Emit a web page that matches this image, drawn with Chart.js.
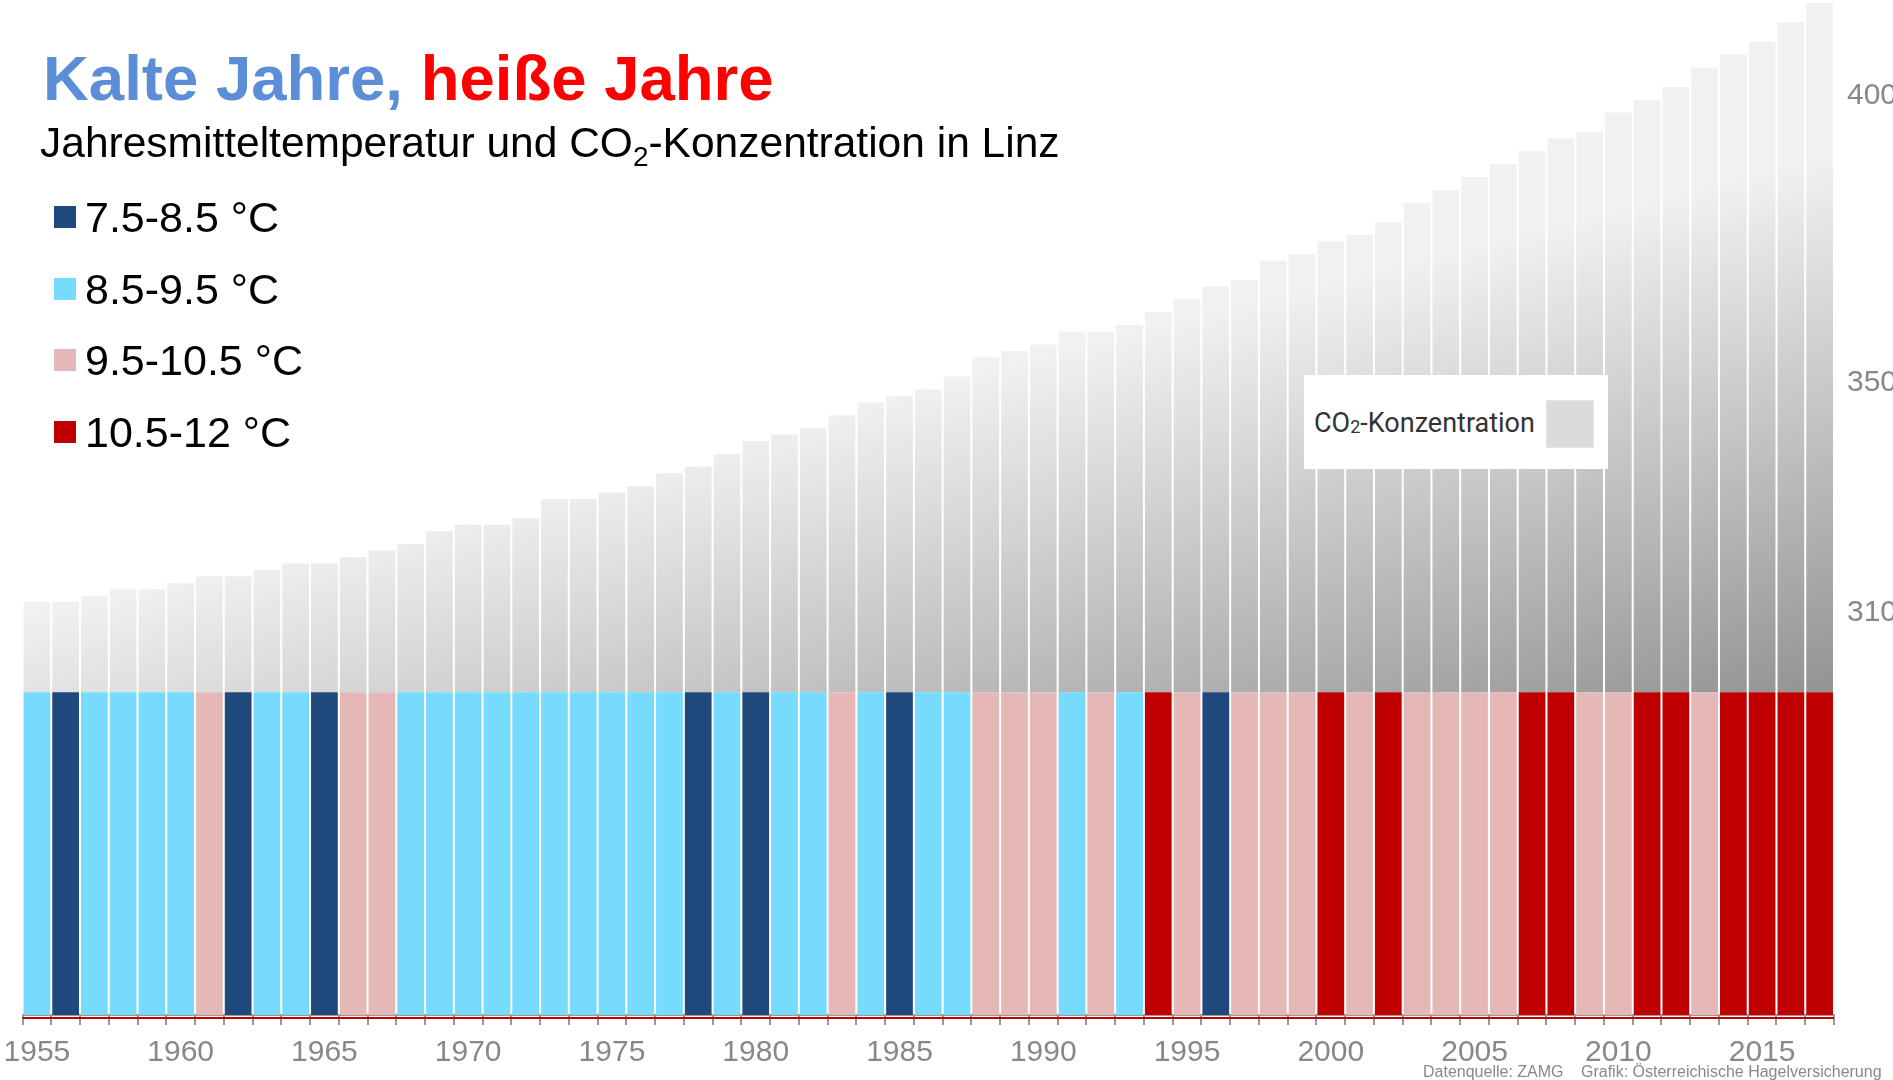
<!DOCTYPE html>
<html>
<head>
<meta charset="utf-8">
<script src="https://cdn.jsdelivr.net/npm/chart.js@4.4.1/dist/chart.umd.min.js"></script>
<style>
html,body{margin:0;padding:0;background:#fff;width:1893px;height:1080px;overflow:hidden;font-family:"Liberation Sans",Arial,sans-serif}
#wrap{position:relative;width:1893px;height:1080px}
#c{position:absolute;left:0;top:0}
.ov{position:absolute;white-space:nowrap}
#title{left:43px;top:47px;font-size:63.5px;line-height:63.5px;font-weight:bold}
#subtitle{left:40px;top:122px;font-size:42.5px;line-height:42.5px;color:#000}
#subtitle sub{font-size:28px;line-height:0;vertical-align:-9px}
.leg{left:54px;font-size:43px;line-height:43px;color:#000}
.leg i{position:absolute;left:0;top:10px;width:22px;height:22px}
.leg span{position:absolute;left:31px;top:0}
#co2box{left:1304px;top:375px;width:304px;height:94px;background:#fff}
#co2txt{left:10px;top:35px;font-family:Roboto,"Liberation Sans",sans-serif;font-size:27px;line-height:27px;color:#333}
#co2txt small{font-size:18px;vertical-align:-1px}
#co2sw{left:242px;top:25px;width:46px;height:46px;background:#d9dcdb;border:1px solid #e6e8e8}
.src{top:1064px;font-size:16px;line-height:16px;color:#888}
</style>
</head>
<body>
<div id="wrap">
<canvas id="c" width="1893" height="1080"></canvas>
<div class="ov" id="title"><span style="color:#5b8ed7">Kalte Jahre,</span> <span style="color:#ff0000">heiße Jahre</span></div>
<div class="ov" id="subtitle">Jahresmitteltemperatur und CO<sub>2</sub>-Konzentration in Linz</div>
<div id="legend"></div>
<div class="ov" id="co2box"><div class="ov" id="co2txt">CO<small>2</small>-Konzentration</div><div class="ov" id="co2sw"></div></div>
<div class="ov src" style="left:1423px">Datenquelle: ZAMG</div>
<div class="ov src" style="left:1581px">Grafik: Österreichische Hagelversicherung</div>
</div>
<script>
// ---------- data ----------
const years = ["1955","1956","1957","1958","1959","1960","1961","1962","1963","1964",
  "1965","1966","1967","1968","1969","1970","1971","1972","1973","1974",
  "1975","1976","1977","1978","1979","1980","1981","1982","1983","1984",
  "1985","1986","1987","1988","1989","1990","1991","1992","1993","1994",
  "1995","1996","1997","1998","1999","2000","2001","2002","2003","2004",
  "2005","2006","2007","2008","2009","2010","2011","2012","2013","2014",
  "2015","2016","2017"];
// CO2 concentration (ppm)
const co2ppm = [314,314,315,316,316,317,318,318,319,320,
  320,321,322,323,325,326,326,327,330,330,
  331,332,334,335,337,339,340,341,343,345,
  346,347,349,352,353,354,356,356,357,359,
  361,363,364,367,368,370,371,373,376,378,
  380,382,384,386,387,390,392,394,397,399,
  401,404,407];
// temperature class per year: 0 = 7.5-8.5, 1 = 8.5-9.5, 2 = 9.5-10.5, 3 = 10.5-12 °C
const tempClass = [1,0,1,1,1,1,2,0,1,1,
  0,2,2,1,1,1,1,1,1,1,
  1,1,1,0,1,0,1,1,2,1,
  0,1,1,2,2,2,1,2,1,3,
  2,0,2,2,2,3,2,3,2,2,
  2,2,3,3,2,2,3,3,2,3,
  3,3,3];
const tempClassLabels = ["7.5-8.5 °C","8.5-9.5 °C","9.5-10.5 °C","10.5-12 °C"];
const xTickLabels = ["1955","1960","1965","1970","1975","1980","1985","1990","1995","2000","2005","2010","2015"];
const rightTickValues = [310, 350, 400];

// ---------- style / scale setup ----------
const tempColors = ["#1f497d","#76dbfe","#e5b8b7","#c00000"];
const Y_MIN = 249.9, Y_MAX = 407, CO2_BASE = 300;
// the printed right-hand axis of the original sits on its own (slightly different) scale
const Y2_MIN = 240.1, Y2_MAX = 416.1;

// legend (HTML)
const legEl = document.getElementById('legend');
tempClassLabels.forEach((lab, i) => {
  const d = document.createElement('div');
  d.className = 'ov leg';
  d.style.top = (196 + i * 71.7) + 'px';
  d.innerHTML = '<i style="background:' + tempColors[i] + '"></i><span>' + lab + '</span>';
  legEl.appendChild(d);
});

let grad = null;
function co2Fill(ctx) {
  const chart = ctx.chart;
  const a = chart.chartArea;
  if (!a) return '#e0e0e0';
  if (!grad) {
    const c = chart.ctx;
    grad = c.createLinearGradient(a.left + 14.5, a.top + 607, a.left + 143.5, a.top + 1114);
    grad.addColorStop(0, '#f1f1f1');
    grad.addColorStop(1, '#939393');
  }
  return grad;
}

const baseLine = {
  id: 'baseLine',
  afterDatasetsDraw(chart) {
    const a = chart.chartArea, c = chart.ctx;
    c.save();
    c.strokeStyle = '#c00000';
    c.lineWidth = 2;
    c.beginPath();
    c.moveTo(a.left, a.bottom + 3);
    c.lineTo(a.right, a.bottom + 3);
    c.stroke();
    c.restore();
  }
};

Chart.defaults.font.family = '"Liberation Sans", Arial, sans-serif';

new Chart(document.getElementById('c'), {
  type: 'bar',
  data: {
    labels: years,
    datasets: [
      {
        label: 'Temperatur',
        data: years.map(() => [Y_MIN, CO2_BASE]),
        backgroundColor: tempClass.map(k => tempColors[k]),
        grouped: false,
        barPercentage: 0.93,
        categoryPercentage: 1,
        yAxisID: 'y'
      },
      {
        label: 'CO2-Konzentration',
        data: co2ppm.map(v => [CO2_BASE, v]),
        backgroundColor: co2Fill,
        grouped: false,
        barPercentage: 0.93,
        categoryPercentage: 1,
        yAxisID: 'y'
      }
    ]
  },
  options: {
    responsive: false,
    devicePixelRatio: 1,
    animation: false,
    layout: { padding: { left: 22.5, top: 3, right: 0, bottom: 0 } },
    plugins: { legend: { display: false }, tooltip: { enabled: false } },
    scales: {
      x: {
        offset: true,
        grid: { display: true, offset: true, drawOnChartArea: false, drawTicks: true, tickLength: 10, color: '#9a9a9a', lineWidth: 2 },
        border: { display: true, color: '#9a9a9a', width: 2 },
        afterFit: s => { s.height = 65; s.paddingLeft = 0; s.paddingRight = 0; },
        ticks: {
          autoSkip: false, maxRotation: 0, minRotation: 0, padding: 10,
          color: '#888888', font: { size: 30 },
          callback: function (v) { const l = this.getLabelForValue(v); return xTickLabels.includes(l) ? l : ''; }
        }
      },
      y: {
        display: false,
        min: Y_MIN, max: Y_MAX
      },
      y2: {
        display: true,
        position: 'right',
        min: Y2_MIN, max: Y2_MAX,
        grid: { display: false, drawTicks: false },
        border: { display: false },
        afterBuildTicks: s => { s.ticks = rightTickValues.map(v => ({ value: v })); },
        afterFit: s => { s.width = 59; s.paddingTop = 0; s.paddingBottom = 0; },
        ticks: { color: '#888888', font: { size: 30 }, padding: 13 }
      }
    }
  },
  plugins: [baseLine]
});
</script>
</body>
</html>
